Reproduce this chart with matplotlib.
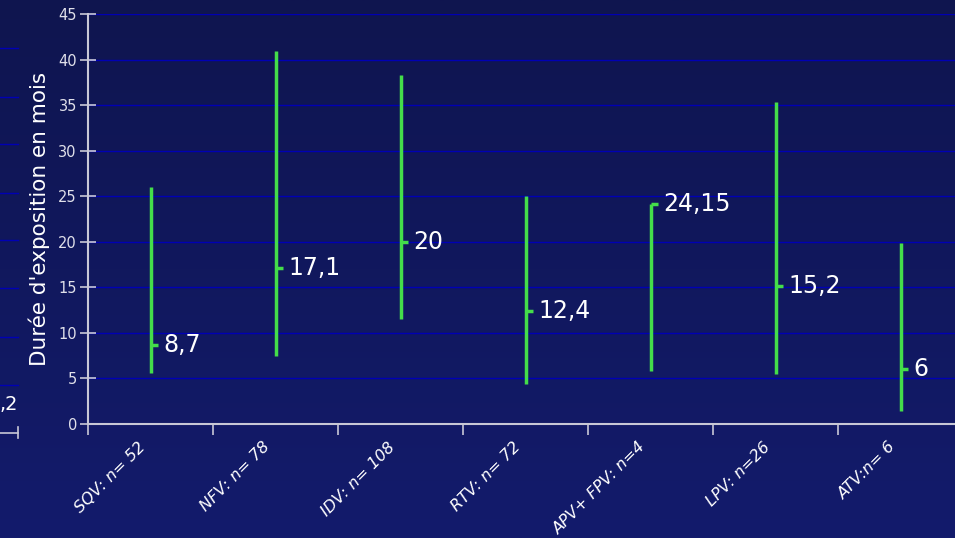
import numpy as np
import matplotlib.pyplot as plt
import matplotlib.transforms as mtrans
from matplotlib.lines import Line2D

# ranges of exposure duration (months) per drug
drugs = ['SQV: n= 52', 'NFV: n= 78', 'IDV: n= 108', 'RTV: n= 72',
         'APV+ FPV: n=4', 'LPV: n=26', 'ATV:n= 6']
lows = [5.6, 7.5, 11.5, 4.4, 5.8, 5.5, 1.4]
highs = [26.0, 40.9, 38.3, 25.0, 24.2, 35.3, 19.9]
medians = [8.7, 17.1, 20.0, 12.4, 24.15, 15.2, 6.0]
med_labels = ['8,7', '17,1', '20', '12,4', '24,15', '15,2', '6']

green = '#44dd4a'
grid_col = '#0000b4'
axis_col = '#c8c8d6'

fig = plt.figure(figsize=(9.55, 5.38), dpi=100)

# background gradient
bg = fig.add_axes([0, 0, 1, 1], zorder=-10)
top = np.array([0x0f, 0x15, 0x4f]) / 255.
bot = np.array([0x13, 0x1b, 0x6c]) / 255.
t = np.linspace(0, 1, 256)[:, None]
grad = top[None, :] * (1 - t) + bot[None, :] * t
bg.imshow(grad[:, None, :], aspect='auto', extent=[0, 1, 0, 1])
bg.axis('off')

# leftover bits of the neighbouring chart on the left edge
for yy in [48, 97, 144, 193, 240, 288, 337, 385]:
    fig.add_artist(Line2D([0, 18 / 955.], [1 - yy / 538.] * 2, color=grid_col, lw=1))
fig.add_artist(Line2D([0, 18 / 955.], [1 - 433 / 538.] * 2, color=axis_col, lw=1.2))
fig.add_artist(Line2D([18 / 955.] * 2, [1 - 427 / 538., 1 - 438 / 538.], color=axis_col, lw=1.2))
fig.text(0.0, 1 - 405 / 538., ',2', color='white', fontsize=14, va='center', ha='left')

ax = fig.add_axes([88 / 955., 1 - 424 / 538., 875 / 955., 410 / 538.])
ax.set_facecolor('none')

x = np.arange(len(drugs)) + 0.5
ax.vlines(x, lows, highs, color=green, lw=2.5, zorder=3)
ax.hlines(medians, x, x + 0.06, color=green, lw=2.5, zorder=3)
for xi, m, lab in zip(x, medians, med_labels):
    ax.text(xi + 0.1, m, lab, color='white', fontsize=17, va='center', ha='left')

ax.set_xlim(0, 7)
ax.set_ylim(0, 45)
ax.set_yticks(np.arange(0, 46, 5))
ax.set_xticks(np.arange(0, 8))
ax.set_xticklabels([])
ax.set_xticks(x, minor=True)
ax.set_xticklabels(drugs, minor=True, rotation=45, ha='right', va='top',
                   rotation_mode='anchor', fontsize=11.5, style='italic', color='white')
ax.tick_params(axis='x', which='minor', length=0, pad=11)
ax.tick_params(axis='x', which='major', direction='out', length=8, color=axis_col, width=1.2)
ax.tick_params(axis='y', direction='inout', length=12, color=axis_col, width=1.2,
               labelcolor='#e0e0ea', labelsize=10.5, pad=2)
shift = mtrans.ScaledTranslation(-0.13, 0, fig.dpi_scale_trans)
for lab in ax.get_xticklabels(minor=True):
    lab.set_transform(lab.get_transform() + shift)

ax.yaxis.grid(True, color=grid_col, lw=1)
ax.set_axisbelow(True)
for s in ['top', 'right']:
    ax.spines[s].set_visible(False)
for s in ['left', 'bottom']:
    ax.spines[s].set_color(axis_col)
    ax.spines[s].set_linewidth(1.5)

ax.set_ylabel("Durée d'exposition en mois", color='white', fontsize=15.5, labelpad=6)

fig.savefig('out.png', dpi=100)
